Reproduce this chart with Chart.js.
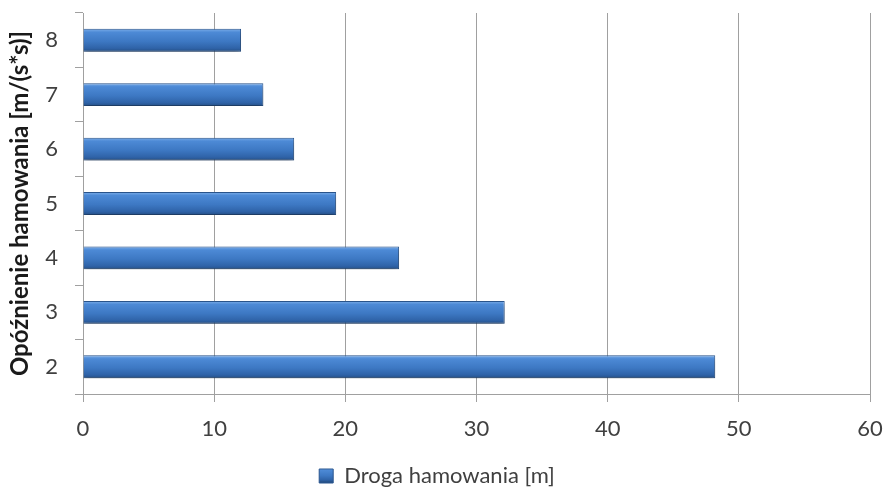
<!DOCTYPE html>
<html>
<head>
<meta charset="utf-8">
<script src="https://cdn.jsdelivr.net/npm/chart.js@4"></script>
<style>
    body { margin: 0; background: #fff; }
    #wrap { width: 885px; height: 492px; }
</style>
</head>
<body>
<div id="wrap"><canvas id="brake-chart" width="885" height="492"></canvas></div>
<script>
const decelerations = ['2', '3', '4', '5', '6', '7', '8'];
const brakingDistance = [48.2, 32.15, 24.1, 19.3, 16.1, 13.75, 12.05];
const seriesName = 'Droga hamowania [m]';
const axisTitle = 'Opóźnienie hamowania [m/(s*s)]';

const FONT = 'Lato, "Open Sans", sans-serif';
const BAR_PCT = 0.42;

function barGradient(ctx, top, bottom) {
    const g = ctx.createLinearGradient(0, top, 0, bottom);
    g.addColorStop(0, '#7fb0ea');
    g.addColorStop(0.15, '#4d8ad6');
    g.addColorStop(0.55, '#3d78c3');
    g.addColorStop(0.85, '#2f63a8');
    g.addColorStop(1, '#254f85');
    return g;
}

// one gradient per bar, positioned from the category scale
function barFill(c) {
    const y = c.chart.scales.y;
    if (!y || c.dataIndex === undefined) return '#3d78c3';
    const center = y.getPixelForValue(c.dataIndex);
    const step = Math.abs(y.getPixelForValue(1) - y.getPixelForValue(0));
    const half = step * BAR_PCT / 2;
    return barGradient(c.chart.ctx, center - half, center + half);
}

// soft drop shadow under the bars
const barShadow = {
    id: 'barShadow',
    beforeDatasetDraw(chart) {
        const ctx = chart.ctx;
        ctx.save();
        ctx.shadowColor = 'rgba(0,0,0,0.35)';
        ctx.shadowBlur = 6;
        ctx.shadowOffsetY = 4;
    },
    afterDatasetDraw(chart) {
        chart.ctx.restore();
    }
};

new Chart(document.getElementById('brake-chart'), {
    type: 'bar',
    data: {
        labels: decelerations,
        datasets: [{
            label: seriesName,
            data: brakingDistance,
            backgroundColor: barFill,
            borderColor: '#2a568f',
            borderWidth: 1,
            categoryPercentage: 1,
            barPercentage: BAR_PCT
        }]
    },
    options: {
        indexAxis: 'y',
        responsive: false,
        animation: false,
        layout: { padding: { left: 4, right: 15, top: 13, bottom: -5 } },
        scales: {
            x: {
                min: 0,
                max: 60,
                ticks: { stepSize: 10, color: '#404040', padding: 14, font: { family: FONT, size: 22 } },
                grid: { color: '#a0a0a0', lineWidth: 1, tickLength: 8 },
                border: { color: '#a0a0a0' },
                afterFit: (scale) => {
                    scale.height = 71;
                    scale.paddingRight = 0;
                    scale.paddingLeft = 0;
                }
            },
            y: {
                reverse: true,
                ticks: { color: '#404040', padding: 17, font: { family: FONT, size: 22 } },
                grid: { offset: true, drawOnChartArea: false, color: '#a0a0a0', tickLength: 8 },
                border: { color: '#a0a0a0' },
                title: {
                    display: true,
                    text: axisTitle,
                    color: '#1a1a1a',
                    padding: { top: 2, bottom: 0 },
                    font: { family: FONT, size: 24, weight: 'bold' }
                },
                afterFit: (scale) => {
                    scale.width = 79;
                    scale.paddingTop = 0;
                    scale.paddingBottom = 0;
                }
            }
        },
        plugins: {
            legend: {
                position: 'bottom',
                labels: {
                    color: '#404040',
                    boxWidth: 14,
                    boxHeight: 14,
                    padding: 0,
                    font: { family: FONT, size: 22 },
                    generateLabels: (chart) => chart.data.datasets.map((ds, i) => ({
                        text: ds.label,
                        fillStyle: barGradient(chart.ctx, chart.height - 24, chart.height - 10),
                        strokeStyle: '#2a568f',
                        lineWidth: 1,
                        fontColor: '#404040',
                        hidden: false,
                        datasetIndex: i
                    }))
                }
            },
            tooltip: { enabled: false }
        }
    },
    plugins: [barShadow]
});
</script>
</body>
</html>
